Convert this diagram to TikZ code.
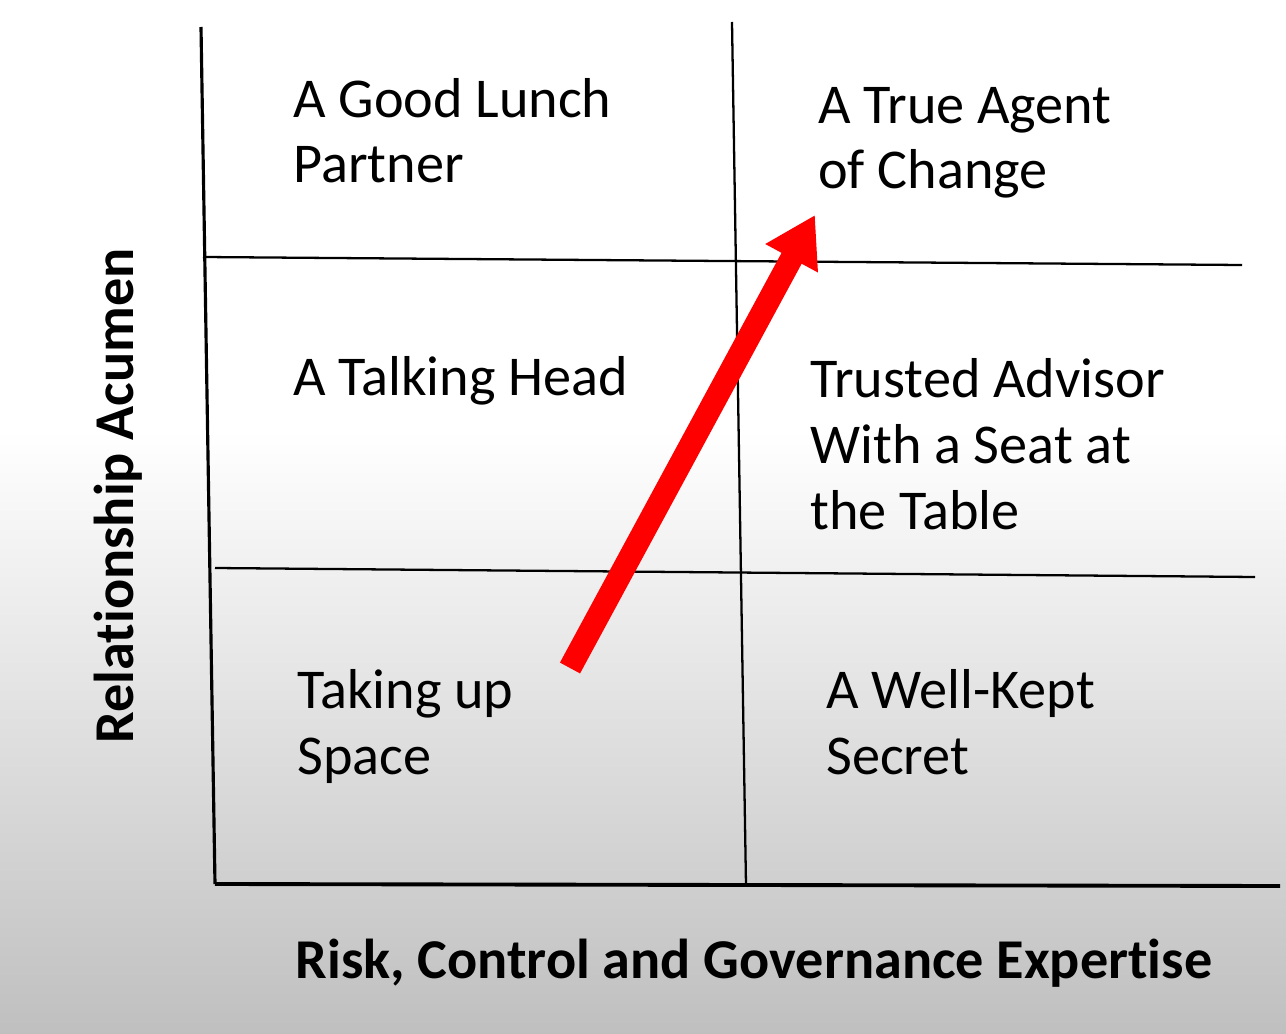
\documentclass[tikz,border=0pt]{standalone}
\usepackage{fontspec}
\setmainfont{Carlito}[Ligatures=NoCommon]
\usetikzlibrary{arrows.meta, positioning}

\begin{document}
\begin{tikzpicture}[
  x=0.02cm, y=-0.02cm,
  cell/.style={anchor=base west, align=left, inner sep=0pt, font=\fontsize{32}{37.5}\selectfont},
  axislabel/.style={font=\bfseries\fontsize{32}{37}\selectfont, inner sep=0pt},
  gridline/.style={draw=black, line width=1.3pt},
  >={Triangle[length=28pt, width=32pt]}
]
  % background
  \useasboundingbox (0,0) rectangle (1286,1034);
  \fill[white] (0,0) rectangle (1286,430);
  \shade[top color=white, bottom color=gray!50] (0,430) rectangle (1286,1034);

  % grid
  \coordinate (lt) at (201,27);
  \coordinate (lb) at (215,884);
  \coordinate (mt) at (732,22);
  \coordinate (mb) at (746,885);
  \coordinate (xe) at (1280,886);
  \coordinate (h1a) at (203,257);
  \coordinate (h1b) at (1242,265);
  \coordinate (h2a) at (215,568);
  \coordinate (h2b) at (1255,577);
  \draw[gridline, line width=1.8pt] (lt) -- (lb);
  \draw[gridline] (mt) -- (mb);
  \draw[gridline, line width=2.2pt] (lb) -- (xe);
  \draw[gridline] (h1a) -- (h1b);
  \draw[gridline] (h2a) -- (h2b);

  % cells (placed at the baseline of their last line)
  \node[cell] (lunch) at (293,183) {A Good Lunch\\Partner};
  \node[cell] (agent) at (818,189) {A True Agent\\of Change};
  \node[cell] (head) at (293,395) {A Talking Head};
  \node[cell] (advisor) at (810,529) {Trusted Advisor\\With a Seat at\\the Table};
  \node[cell] (space) at (297,774) {Taking up\\Space};
  \node[cell] (secret) at (826,774) {A Well-Kept\\Secret};

  % axes
  \node[axislabel, rotate=90] (ylab) at (118,496) {Relationship Acumen};
  \node[axislabel, anchor=base] (xlab) at (754,978) {Risk, Control and Governance Expertise};

  % arrow
  \coordinate (from) at (570,668);
  \coordinate (to) at (815,215);
  \draw[->, red, line width=13pt] (from) -- (to);
\end{tikzpicture}
\end{document}
